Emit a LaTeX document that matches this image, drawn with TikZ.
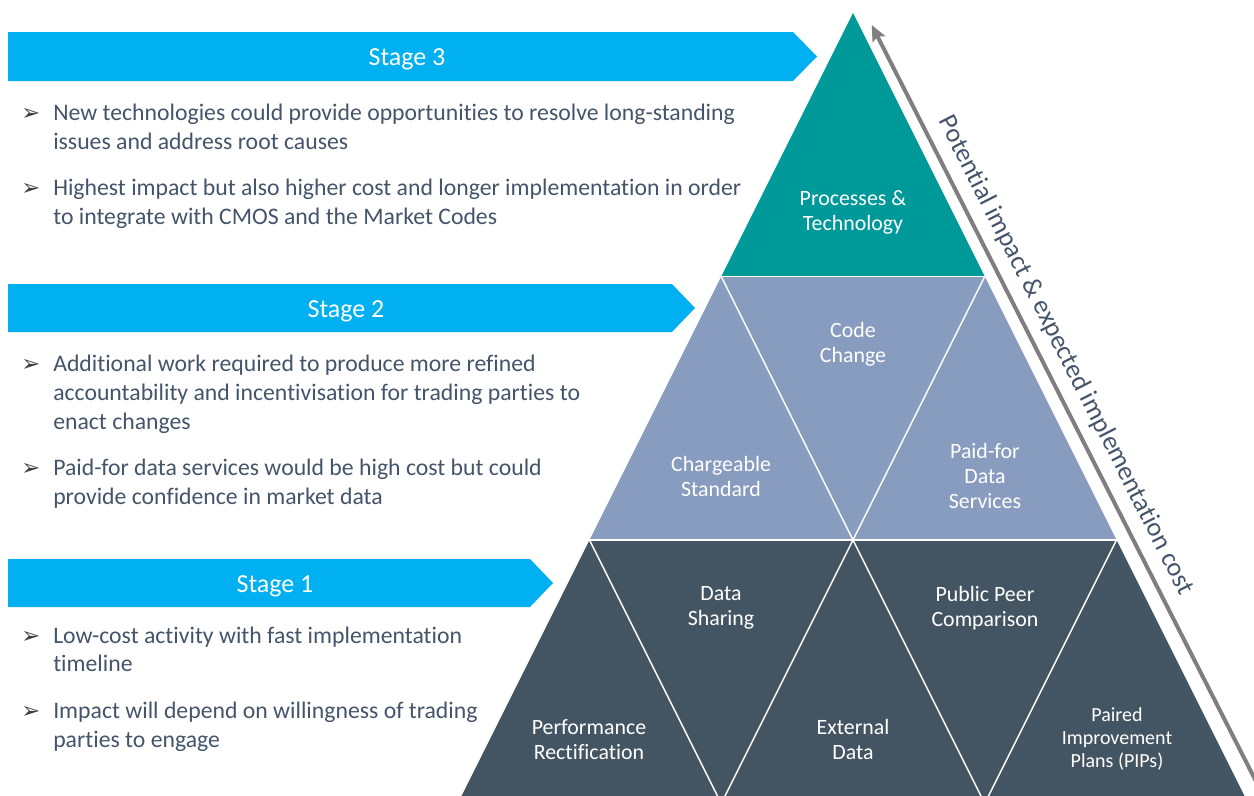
\documentclass[tikz,border=0pt]{standalone}
\usepackage{fontspec}
\setmainfont{Carlito}[Ligatures=NoCommon]
\newfontfamily\symfont{DejaVu Sans}
\usetikzlibrary{arrows.meta}

\definecolor{cyanbar}{HTML}{00B0F0}
\definecolor{tealtop}{HTML}{009999}
\definecolor{midtier}{HTML}{889CC0}
\definecolor{lowtier}{HTML}{435563}
\definecolor{bodytext}{HTML}{44546A}
\definecolor{markgrey}{HTML}{3F3F3F}
\definecolor{axisgrey}{HTML}{7F7F7F}

\begin{document}
\begin{tikzpicture}[x=0.75pt,y=-0.75pt,
  banner/.style={fill=cyanbar, draw=none},
  stagelabel/.style={anchor=base, text=white, font=\fontsize{19.5}{23}\selectfont, inner sep=0pt},
  bulletline/.style={anchor=base west, text=bodytext, font=\fontsize{17.8}{21}\selectfont, inner sep=0pt},
  bulletmark/.style={anchor=base west, text=markgrey, font=\symfont\fontsize{17}{19}\selectfont, inner sep=0pt},
  tierlabel/.style={align=center, text=white, font=\fontsize{16.4}{18.75}\selectfont, inner sep=0pt},
  smalltier/.style={tierlabel, font=\fontsize{15}{17.2}\selectfont},
  sepline/.style={draw=white, line width=1.1pt},
  axislabel/.style={anchor=base, text=bodytext, font=\fontsize{19.9}{23}\selectfont, inner sep=0pt, rotate=-63.0}
]
\useasboundingbox (0,0) rectangle (1254,796);
\clip (0,0) rectangle (1254,796);

% ---------- pyramid corner points ----------
\coordinate (A)  at (853,13);
\coordinate (L1) at (721.25,276.5);
\coordinate (R1) at (984.75,276.5);
\coordinate (L2) at (589.5,540);
\coordinate (M2) at (853,540);
\coordinate (R2) at (1116.5,540);
\coordinate (L3) at (457.75,803.5);
\coordinate (B1) at (721.25,803.5);
\coordinate (B2) at (984.75,803.5);
\coordinate (R3) at (1248.25,803.5);

% ---------- tier fills ----------
\fill[tealtop]  (A) -- (L1) -- (R1) -- cycle;
\fill[midtier]  (L1) -- (R1) -- (R2) -- (L2) -- cycle;
\fill[lowtier]  (L2) -- (R2) -- (R3) -- (L3) -- cycle;

% ---------- white separators ----------
\draw[sepline] (L1) -- (R1);
\draw[sepline] (L2) -- (R2);
\draw[sepline] (L1) -- (M2) -- (R1);
\draw[sepline] (L2) -- (B1) -- (M2) -- (B2) -- (R2);

% ---------- pyramid labels ----------
\node[tierlabel] (proc) at (853,212) {Processes \&\\Technology};
\node[tierlabel] (code) at (853,344) {Code\\Change};
\node[tierlabel] (charge) at (721,476) {Chargeable\\Standard};
\node[tierlabel] (paid) at (985,476) {Paid-for\\Data\\Services};
\node[tierlabel] (share) at (721,608) {Data\\Sharing};
\node[tierlabel] (peer) at (985,608) {Public Peer\\Comparison};
\node[tierlabel] (perf) at (589,739.5) {Performance\\Rectification};
\node[tierlabel] (ext) at (853,739.5) {External\\Data};
\node[smalltier] (pips) at (1117,739) {Paired\\Improvement\\Plans (PIPs)};

% ---------- impact / cost axis ----------
\coordinate (axistip) at (871.7,25);
\coordinate (axisfoot) at (1268,805);
\draw[axisgrey, line width=3pt, -{Stealth[length=12pt, width=10.5pt, inset=2.5pt]}] (axisfoot) -- (axistip);
\node[axislabel] (axis) at (1059.5,358.6) {Potential impact \& expected implementation cost};

% ---------- stage banners ----------
\fill[banner] (8,32) -- (793,32) -- (817,56.5) -- (793,81) -- (8,81) -- cycle;
\fill[banner] (8,284) -- (672,284) -- (695,308) -- (672,332) -- (8,332) -- cycle;
\fill[banner] (8,559) -- (530,559) -- (553,583) -- (530,607) -- (8,607) -- cycle;
\node[stagelabel] (s3) at (407,65.5) {Stage 3};
\node[stagelabel] (s2) at (346,317) {Stage 2};
\node[stagelabel] (s1) at (275,592) {Stage 1};

% ---------- stage 3 notes ----------
\node[bulletmark] (m31) at (21,120) {➢};
\node[bulletline] (t31a) at (53,120) {New technologies could provide opportunities to resolve long-standing};
\node[bulletline] (t31b) at (53,149) {issues and address root causes};
\node[bulletmark] (m32) at (21,195) {➢};
\node[bulletline] (t32a) at (53,195) {Highest impact but also higher cost and longer implementation in order};
\node[bulletline] (t32b) at (53,224) {to integrate with CMOS and the Market Codes};

% ---------- stage 2 notes ----------
\node[bulletmark] (m21) at (21,371) {➢};
\node[bulletline] (t21a) at (53,371) {Additional work required to produce more refined};
\node[bulletline] (t21b) at (53,400) {accountability and incentivisation for trading parties to};
\node[bulletline] (t21c) at (53,429) {enact changes};
\node[bulletmark] (m22) at (21,475) {➢};
\node[bulletline] (t22a) at (53,475) {Paid-for data services would be high cost but could};
\node[bulletline] (t22b) at (53,504) {provide confidence in market data};

% ---------- stage 1 notes ----------
\node[bulletmark] (m11) at (21,643) {➢};
\node[bulletline] (t11a) at (53,643) {Low-cost activity with fast implementation};
\node[bulletline] (t11b) at (53,671) {timeline};
\node[bulletmark] (m12) at (21,718) {➢};
\node[bulletline] (t12a) at (53,718) {Impact will depend on willingness of trading};
\node[bulletline] (t12b) at (53,747) {parties to engage};
\end{tikzpicture}
\end{document}
